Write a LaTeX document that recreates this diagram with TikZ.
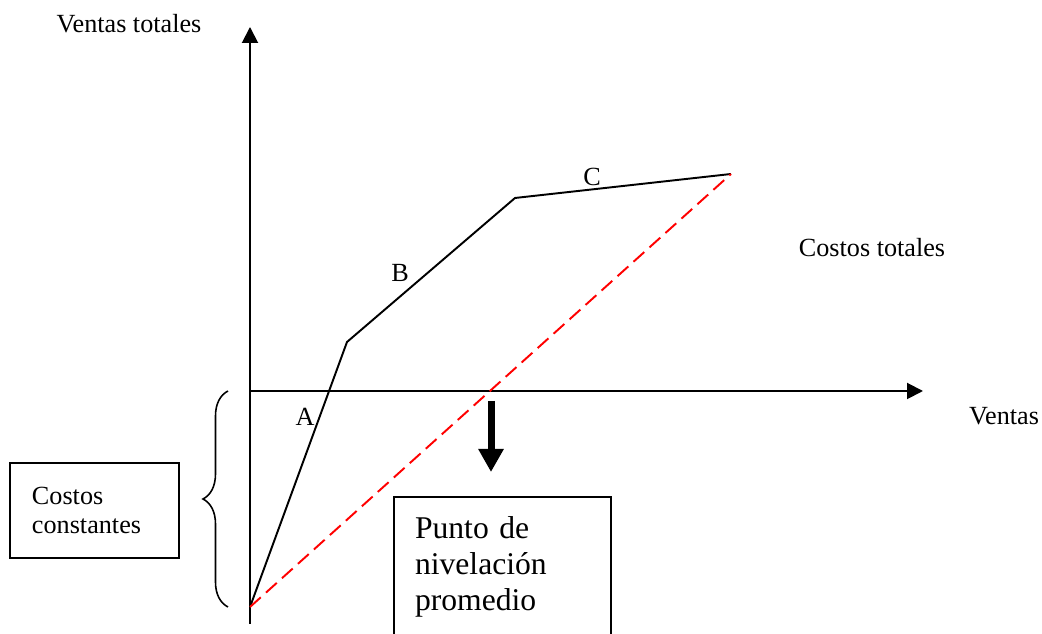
\documentclass[tikz,border=0pt]{standalone}
\usepackage{fontspec}
\setmainfont{Liberation Serif}
\usetikzlibrary{arrows.meta,decorations.pathreplacing}
\begin{document}
\begin{tikzpicture}[line width=1.1pt, font=\fontsize{14.9}{16.5}\selectfont,
  axis/.style={-{Triangle[length=0.32cm,width=0.32cm]}},
  box/.style={draw, line width=0.9pt, align=left}]
\useasboundingbox (-5,-4.86) rectangle (15.84,7.82);
\coordinate (o) at (0,0);
\coordinate (ytop) at (0,7.28);
\coordinate (ybot) at (0,-4.66);
\coordinate (xend) at (13.46,0);
\coordinate (p0) at (0,-4.32);
\coordinate (p1) at (1.94,0.98);
\coordinate (p2) at (5.3,3.86);
\coordinate (p3) at (9.62,4.34);
\coordinate (n1) at (4.82,-0.2);
\coordinate (n2) at (4.82,-1.62);
\draw[axis] (ybot) -- (ytop);
\draw[axis] (o) -- (xend);
\draw (p0) -- (p1) -- (p2) -- (p3);
\draw[red, line width=1.1pt, dash pattern=on 0.29cm off 0.14cm] (p0) -- (p3);
\draw[line width=0.14cm, -{Triangle[length=0.46cm,width=0.48cm]}] (n1) -- (n2);
\draw[decorate, decoration={brace, amplitude=0.5cm}, line width=0.9pt] (-0.44,-4.32) -- (-0.44,0);
\node[anchor=base] (vt) at (-2.42,7.16) {Ventas totales};
\node[anchor=base] (ct) at (12.44,2.68) {Costos totales};
\node[anchor=base] (v) at (15.08,-0.68) {Ventas};
\node[anchor=base] (a) at (1.1,-0.7) {A};
\node[anchor=base] (b) at (3.0,2.18) {B};
\node[anchor=base] (c) at (6.84,4.1) {C};
\node[box, minimum width=3.38cm, minimum height=1.9cm, text width=2.5cm, inner xsep=0.44cm] (cc) at (-3.11,-2.39) {Costos\\constantes};
\node[box, minimum width=4.34cm, minimum height=2.8cm, text width=3.5cm, inner xsep=0.42cm,
  font=\fontsize{18}{20.7}\selectfont] (pn) at (5.05,-3.52) {Punto de\\nivelación\\promedio};
\end{tikzpicture}
\end{document}
